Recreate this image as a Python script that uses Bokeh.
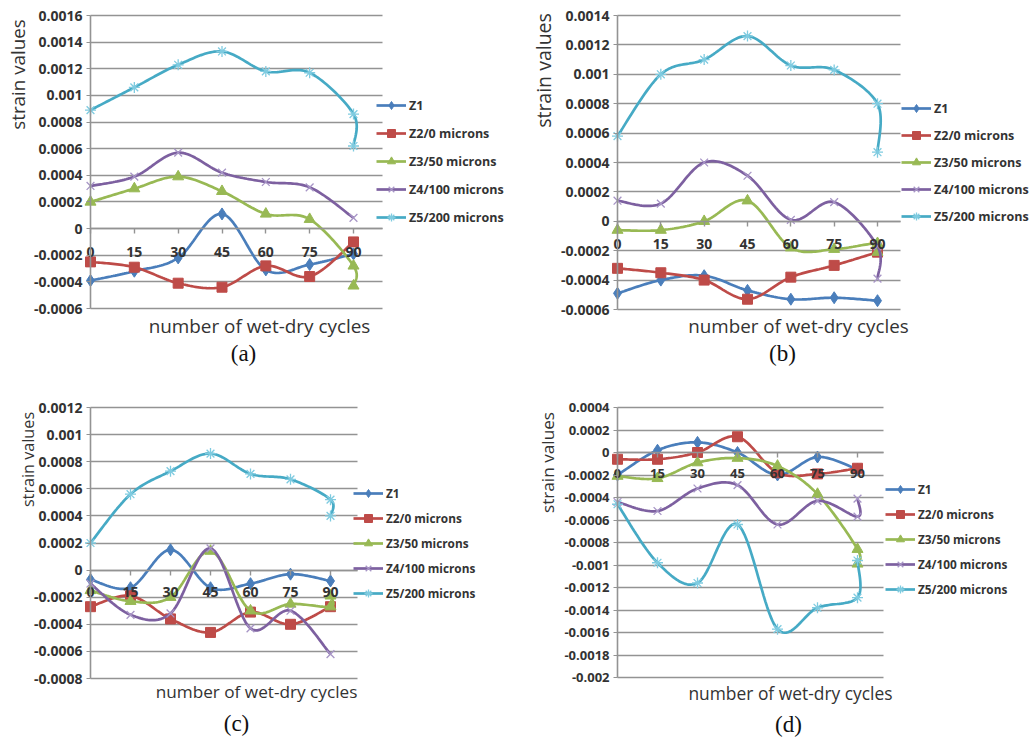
import numpy as np
from bokeh.plotting import figure
from bokeh.models import (Range1d, FixedTicker, CustomJSTickFormatter, Legend, LegendItem,
                          Label, Grid)
from bokeh.layouts import gridplot
from bokeh.embed import file_html
from bokeh.resources import INLINE

# ---------------- data ----------------
cycles = [0, 15, 30, 45, 60, 75, 90, 90]          # second value at 90 = second reading
x_tick_values = [0, 15, 30, 45, 60, 75, 90]
x_tick_labels = ["0", "15", "30", "45", "60", "75", "90"]
series_names = ["Z1", "Z2/0 microns", "Z3/50 microns", "Z4/100 microns", "Z5/200 microns"]

# (a)
a_z1 = [-0.00039, -0.00032, -0.00022, 0.00011, -0.00031, -0.00027, -0.00019]
a_z2 = [-0.00025, -0.00029, -0.00041, -0.00044, -0.00028, -0.00036, -0.0001]
a_z3 = [0.0002, 0.0003, 0.00039, 0.00028, 0.00011, 0.00007, -0.00028, -0.00043]
a_z4 = [0.00032, 0.00039, 0.00057, 0.00042, 0.00035, 0.00031, 0.00008]
a_z5 = [0.00089, 0.00106, 0.00123, 0.00133, 0.00118, 0.00117, 0.00086, 0.00062]
a_yticks = [-0.0006, -0.0004, -0.0002, 0.0, 0.0002, 0.0004, 0.0006, 0.0008,
            0.001, 0.0012, 0.0014, 0.0016]

# (b)
b_z1 = [-0.00049, -0.0004, -0.00037, -0.00047, -0.00053, -0.00052, -0.00054]
b_z2 = [-0.00032, -0.00035, -0.0004, -0.00053, -0.00038, -0.0003, -0.00021]
b_z3 = [-0.00006, -0.00006, 0.0, 0.00014, -0.00018, -0.00019, -0.00015, -0.00021]
b_z4 = [0.00014, 0.00012, 0.0004, 0.00031, 0.00001, 0.00013, -0.00017, -0.00039]
b_z5 = [0.00058, 0.001, 0.0011, 0.00126, 0.00106, 0.00103, 0.0008, 0.00047]
b_yticks = [-0.0006, -0.0004, -0.0002, 0.0, 0.0002, 0.0004, 0.0006, 0.0008,
            0.001, 0.0012, 0.0014]

# (c)
c_z1 = [-0.00007, -0.00013, 0.00015, -0.00013, -0.0001, -0.00003, -0.00008]
c_z2 = [-0.00027, -0.00019, -0.00036, -0.00046, -0.00031, -0.0004, -0.00027]
c_z3 = [-0.00015, -0.00023, -0.0002, 0.00014, -0.0003, -0.00025, -0.00027, -0.00019]
c_z4 = [-0.0001, -0.00033, -0.00032, 0.00016, -0.00043, -0.0003, -0.00062]
c_z5 = [0.0002, 0.00056, 0.00073, 0.00086, 0.00071, 0.00067, 0.00052, 0.0004]
c_yticks = [-0.0008, -0.0006, -0.0004, -0.0002, 0.0, 0.0002, 0.0004, 0.0006,
            0.0008, 0.001, 0.0012]

# (d)
d_z1 = [-0.0002, 0.00002, 0.00009, 0.0, -0.0002, -0.00004, -0.00015]
d_z2 = [-0.00006, -0.00006, 0.0, 0.00014, -0.00018, -0.00019, -0.00014]
d_z3 = [-0.00021, -0.00023, -0.00009, -0.00005, -0.00012, -0.00037, -0.00086, -0.00099]
d_z4 = [-0.00044, -0.00052, -0.00032, -0.00029, -0.00064, -0.00043, -0.00057, -0.00041]
d_z5 = [-0.00046, -0.00098, -0.00116, -0.00064, -0.00157, -0.00138, -0.00129, -0.00096]
d_yticks = [-0.002, -0.0018, -0.0016, -0.0014, -0.0012, -0.001, -0.0008, -0.0006,
            -0.0004, -0.0002, 0.0, 0.0002, 0.0004]

# ---------------- style ----------------
line_colors = ["#4A7EBB", "#BE4B48", "#98B954", "#7D60A0", "#46AAC5"]
marker_line = ["#4A7EBB", "#BE4B48", "#98B954", "#A795C6", "#7FCBE0"]
markers = ["diamond", "square", "triangle", "x", "asterisk"]
marker_sizes = [12, 10, 11, 11, 11]
GRID = "#939393"
TXT = "#333333"
SANS = "Open Sans"
W, H = 516, 370


def smooth(xs, ys, n=24):
    pts = np.column_stack([np.asarray(xs, float), np.asarray(ys, float)])
    out = [pts[0]]
    m = len(pts)
    for i in range(m - 1):
        p0 = pts[i - 1] if i > 0 else pts[i]
        p1 = pts[i]
        p2 = pts[i + 1]
        p3 = pts[i + 2] if i + 2 < m else pts[i + 1]
        c1 = p1 + (p2 - p0) / 6.0
        c2 = p2 - (p3 - p1) / 6.0
        t = np.linspace(0, 1, n)[1:, None]
        seg = ((1 - t) ** 3) * p1 + 3 * ((1 - t) ** 2) * t * c1 + 3 * (1 - t) * t * t * c2 + t ** 3 * p2
        out.extend(seg)
    out = np.array(out)
    return out[:, 0], out[:, 1]


def make_panel(series, yticks, axis_px, px90, right_px, top_px, bottom_px,
               leg_x, leg_y1, leg_spacing, leg_size,
               xt_c, xt_size, yl_c, yl_size, cap, cap_c, tick_size, tick_standoff):
    kx = (px90 - axis_px) / 90.0                       # px per cycle
    y_lo, y_hi = yticks[0], yticks[-1]
    ky = (bottom_px - top_px) / (y_hi - y_lo)           # px per strain unit
    x_end = (right_px - axis_px) / kx
    p = figure(width=W, height=H, output_backend="svg", toolbar_location=None,
               x_range=Range1d(-axis_px / kx, (W - axis_px) / kx),
               y_range=Range1d(y_lo - (H - bottom_px) / ky, y_hi + top_px / ky),
               min_border=0, min_border_left=0, min_border_right=0,
               min_border_top=0, min_border_bottom=0,
               outline_line_color=None, background_fill_color="white",
               border_fill_color="white")

    # horizontal gridlines limited to the plot area
    p.xgrid.visible = False
    p.ygrid.visible = False
    if "cross_bounds" in Grid.properties():
        g = Grid(dimension=1, ticker=FixedTicker(ticks=yticks), cross_bounds=(0, x_end),
                 grid_line_color=GRID, grid_line_width=1.6)
        p.add_layout(g)
    else:
        p.segment(x0=[0] * len(yticks), x1=[x_end] * len(yticks), y0=yticks, y1=yticks,
                  line_color=GRID, line_width=1.6)

    # x axis crossing at strain = 0
    xa = p.xaxis[0]
    xa.fixed_location = 0
    xa.bounds = (0, x_end)
    xa.ticker = FixedTicker(ticks=x_tick_values)
    xa.major_label_overrides = {v: s for v, s in zip(x_tick_values, x_tick_labels)}
    xa.axis_line_color = GRID
    xa.axis_line_width = 1.6
    xa.major_tick_line_color = GRID
    xa.major_tick_line_width = 1.4
    xa.major_tick_in = 0
    xa.major_tick_out = 5
    xa.minor_tick_line_color = None
    xa.major_label_standoff = tick_standoff
    xa.major_label_text_font = SANS
    xa.major_label_text_font_style = "bold"
    xa.major_label_text_font_size = f"{tick_size}px"
    xa.major_label_text_color = TXT

    # y axis at cycle = 0
    ya = p.yaxis[0]
    ya.fixed_location = 0
    ya.bounds = (y_lo, y_hi)
    ya.ticker = FixedTicker(ticks=yticks)
    ya.formatter = CustomJSTickFormatter(code="return String(Number(tick.toPrecision(8)));")
    ya.axis_line_color = GRID
    ya.axis_line_width = 1.6
    ya.major_tick_line_color = GRID
    ya.major_tick_in = 0
    ya.major_tick_out = 4
    ya.minor_tick_line_color = None
    ya.major_label_standoff = 4
    ya.major_label_text_font = SANS
    ya.major_label_text_font_style = "bold"
    ya.major_label_text_font_size = f"{tick_size}px"
    ya.major_label_text_color = TXT

    items = []
    for name, vals, lc, mlc, mk, ms in zip(series_names, series, line_colors,
                                          marker_line, markers, marker_sizes):
        xs = cycles[:len(vals)]
        sx, sy = smooth(xs, vals)
        r1 = p.line(sx, sy, line_color=lc, line_width=2.7)
        thin = mk in ("x", "asterisk")
        r2 = p.scatter(xs, vals, marker=mk, size=ms, fill_color=lc,
                       line_color=mlc if thin else lc,
                       line_width=1.3 if thin else 1)
        items.append(LegendItem(label=name, renderers=[r1, r2]))

    leg_h = 5 * 20 + 4 * leg_spacing
    leg_top = leg_y1 - 10
    legend = Legend(items=items, location=(leg_x, H - (leg_top + leg_h)),
                    orientation="vertical", spacing=leg_spacing, padding=0, margin=0,
                    glyph_width=30, glyph_height=20, label_height=20,
                    label_standoff=3, border_line_color=None,
                    background_fill_alpha=0,
                    label_text_font=SANS, label_text_font_style="bold",
                    label_text_font_size=f"{leg_size}px", label_text_color=TXT)
    p.add_layout(legend)

    def lab(text, c, size, font=SANS, color=TXT, angle=0.0):
        return Label(x=c[0], y=H - c[1], x_units="screen", y_units="screen",
                     text=text, text_align="center", text_baseline="middle",
                     text_font=font, text_font_size=f"{size}px", text_color=color,
                     angle=angle)

    p.add_layout(lab("number of wet-dry cycles", xt_c, xt_size))
    p.add_layout(lab("strain values", yl_c, yl_size, angle=np.pi / 2))
    p.add_layout(lab(cap, cap_c, 23, font="Liberation Serif", color="#111111"))
    return p


pa = make_panel([a_z1, a_z2, a_z3, a_z4, a_z5], a_yticks,
                axis_px=90, px90=353, right_px=382, top_px=15, bottom_px=308,
                leg_x=376, leg_y1=105, leg_spacing=8, leg_size=12.5,
                xt_c=(259, 325), xt_size=18.9, yl_c=(17, 74), yl_size=18.8,
                cap="(a)", cap_c=(243, 353), tick_size=14, tick_standoff=13)
pb = make_panel([b_z1, b_z2, b_z3, b_z4, b_z5], b_yticks,
                axis_px=101, px90=361, right_px=384, top_px=15, bottom_px=309,
                leg_x=385, leg_y1=108, leg_spacing=7, leg_size=12.5,
                xt_c=(282, 325), xt_size=18.8, yl_c=(27, 70), yl_size=19.5,
                cap="(b)", cap_c=(266, 353), tick_size=14, tick_standoff=13)
pc = make_panel([c_z1, c_z2, c_z3, c_z4, c_z5], c_yticks,
                axis_px=90, px90=330, right_px=357, top_px=37, bottom_px=308,
                leg_x=353, leg_y1=123, leg_spacing=5, leg_size=11.8,
                xt_c=(256, 321), xt_size=17.2, yl_c=(27, 89), yl_size=16.2,
                cap="(c)", cap_c=(236, 353), tick_size=14, tick_standoff=12)
pd_ = make_panel([d_z1, d_z2, d_z3, d_z4, d_z5], d_yticks,
                 axis_px=101, px90=341, right_px=367, top_px=37, bottom_px=307,
                 leg_x=369, leg_y1=119, leg_spacing=5, leg_size=11.8,
                 xt_c=(274, 322), xt_size=17.4, yl_c=(31, 92), yl_size=17.2,
                 cap="(d)", cap_c=(272, 354), tick_size=13, tick_standoff=11)

grid = gridplot([[pa, pb], [pc, pd_]], toolbar_location=None)

open("out.html", "w").write(file_html(grid, INLINE))
